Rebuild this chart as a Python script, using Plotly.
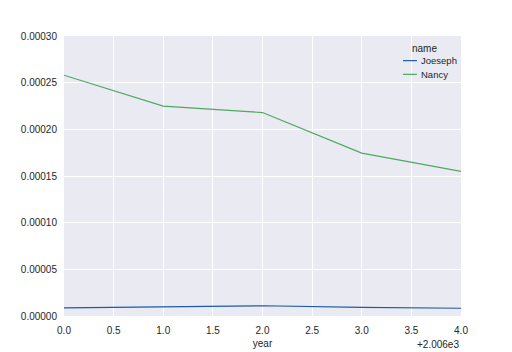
import plotly.graph_objects as go

years = [0, 1, 2, 3, 4]
joeseph = [0.0000086, 0.0000097, 0.0000110, 0.0000092, 0.0000083]
nancy = [0.000258, 0.0002248, 0.000218, 0.0001745, 0.000155]
series_names = ["Joeseph", "Nancy"]
colors = ["#1f5aa8", "#4ea862"]
xticks = [0.0, 0.5, 1.0, 1.5, 2.0, 2.5, 3.0, 3.5, 4.0]
yticks = [0.0, 0.00005, 0.0001, 0.00015, 0.0002, 0.00025, 0.0003]

fig = go.Figure()
for name, vals, c in zip(series_names, [joeseph, nancy], colors):
    fig.add_trace(go.Scatter(x=years, y=vals, mode="lines", name=name,
                             line=dict(color=c, width=1.2), showlegend=False))

font = dict(family="Liberation Sans, Arial, sans-serif", size=10, color="#262626")
fig.update_layout(
    width=512, height=352,
    margin=dict(l=64, r=51, t=36, b=36),
    paper_bgcolor="white", plot_bgcolor="#EAEAF2",
    font=font,
    showlegend=False,
    xaxis=dict(range=[0, 4], tickvals=xticks, ticktext=[f"{v:.1f}" for v in xticks],
               showgrid=True, gridcolor="white", gridwidth=1, zeroline=False,
               ticks="outside", ticklen=5, tickcolor="rgba(0,0,0,0)", showline=False,
               automargin=False,
               title=dict(text="year", font=dict(size=10), standoff=4)),
    yaxis=dict(range=[0, 0.0003], tickvals=yticks, ticktext=[f"{v:.5f}" for v in yticks],
               showgrid=True, gridcolor="white", gridwidth=1, zeroline=False,
               ticks="outside", ticklen=4, tickcolor="rgba(0,0,0,0)", showline=False,
               automargin=False),
)

# manual legend (matplotlib-style, compact)
leg_y = [0.912, 0.863]
for name, c, yy in zip(series_names, colors, leg_y):
    fig.add_shape(type="line", xref="paper", yref="paper", x0=0.854, x1=0.889,
                  y0=yy, y1=yy, line=dict(color=c, width=1.2))
    fig.add_annotation(text=name, xref="paper", yref="paper", x=0.895, y=yy,
                       xanchor="left", yanchor="middle", showarrow=False,
                       font=dict(size=9.5, color="#262626"))
fig.add_annotation(text="name", xref="paper", yref="paper", x=0.908, y=0.957,
                   xanchor="center", yanchor="middle", showarrow=False,
                   font=dict(size=10, color="#262626"))

fig.add_annotation(text="+2.006e3", xref="paper", yref="paper", x=1.0, y=0,
                   xanchor="right", yanchor="top", yshift=-21, showarrow=False,
                   font=dict(size=10, color="#262626"))
fig.write_html("out.html")
